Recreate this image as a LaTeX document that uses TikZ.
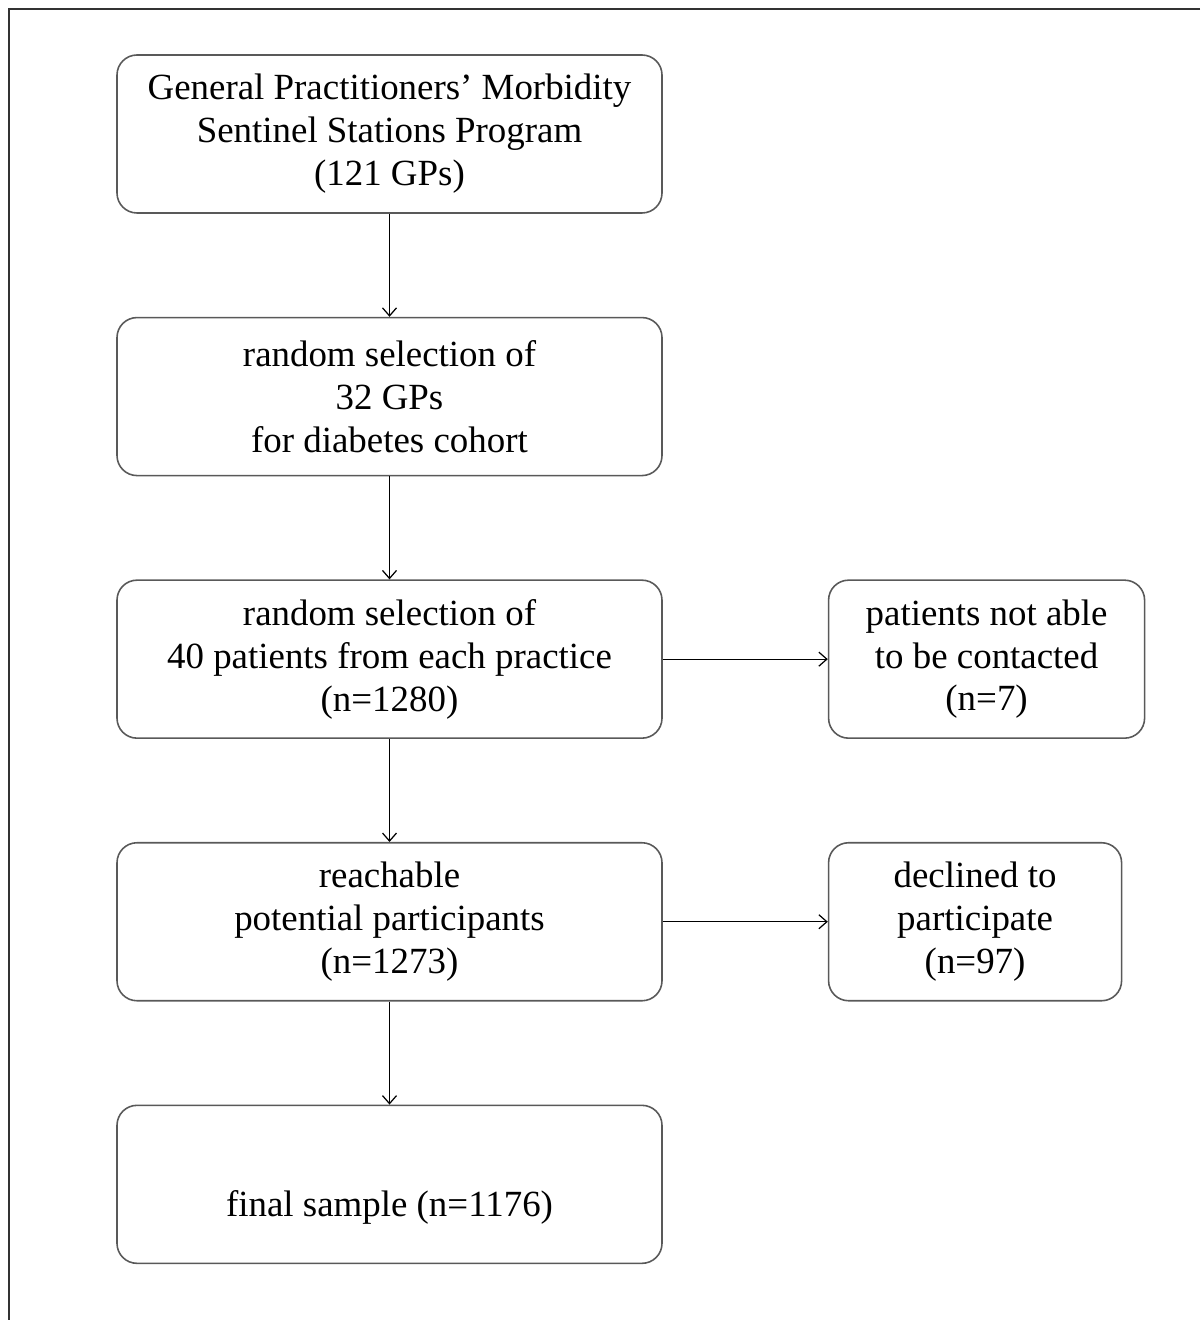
\documentclass[tikz,border=0pt]{standalone}
\usepackage{fontspec}
\setmainfont{Liberation Serif}
\usetikzlibrary{arrows.meta, positioning}
\tikzset{
  box/.style    = {draw=black!65, rounded corners=2mm, align=center, line width=0.45pt,
                   font=\fontsize{10.5}{12.2}\selectfont, inner sep=0pt},
  mainbox/.style= {box, minimum width=54.5mm, minimum height=15.8mm},
  sidebox/.style= {box, minimum height=15.8mm},
  fl/.style     = {-{Straight Barb[length=0.8mm, width=1.4mm]}, line width=0.35pt, draw=black},
  frame/.style  = {draw=black!80, line width=0.6pt},
}

\begin{document}
\begin{tikzpicture}[node distance=10.3mm and 16.5mm]
\useasboundingbox (0,0) rectangle (12,-13.2);
\coordinate (fcorner) at (0.09,-0.09);
\coordinate (ftop) at (12,-0.09);
\coordinate (fbot) at (0.09,-13.2);
\draw[frame] (ftop) -- (fcorner) -- (fbot);

\node[mainbox] (prog) at (3.895,-1.34)
  {General Practitioners' Morbidity\\Sentinel Stations Program\\(121 GPs)};
\node[mainbox, below=of prog] (gps)
  {random selection of\\32 GPs\\for diabetes cohort};
\node[mainbox, below=of gps] (pat)
  {random selection of\\40 patients from each practice\\(n=1280)};
\node[mainbox, below=of pat] (reach)
  {reachable\\potential participants\\(n=1273)};
\node[mainbox, below=of reach] (final)
  {\mbox{}\\[3mm]final sample (n=1176)};

\node[sidebox, minimum width=31.6mm, right=of pat] (nocont)
  {patients not able\\to be contacted\\(n=7)};
\node[sidebox, minimum width=29.3mm, right=of reach] (decl)
  {declined to\\participate\\(n=97)};

\draw[fl] (prog)--(gps);
\draw[fl] (gps)--(pat);
\draw[fl] (pat)--(reach);
\draw[fl] (reach)--(final);
\draw[fl] (pat)--(nocont);
\draw[fl] (reach)--(decl);
\end{tikzpicture}
\end{document}
